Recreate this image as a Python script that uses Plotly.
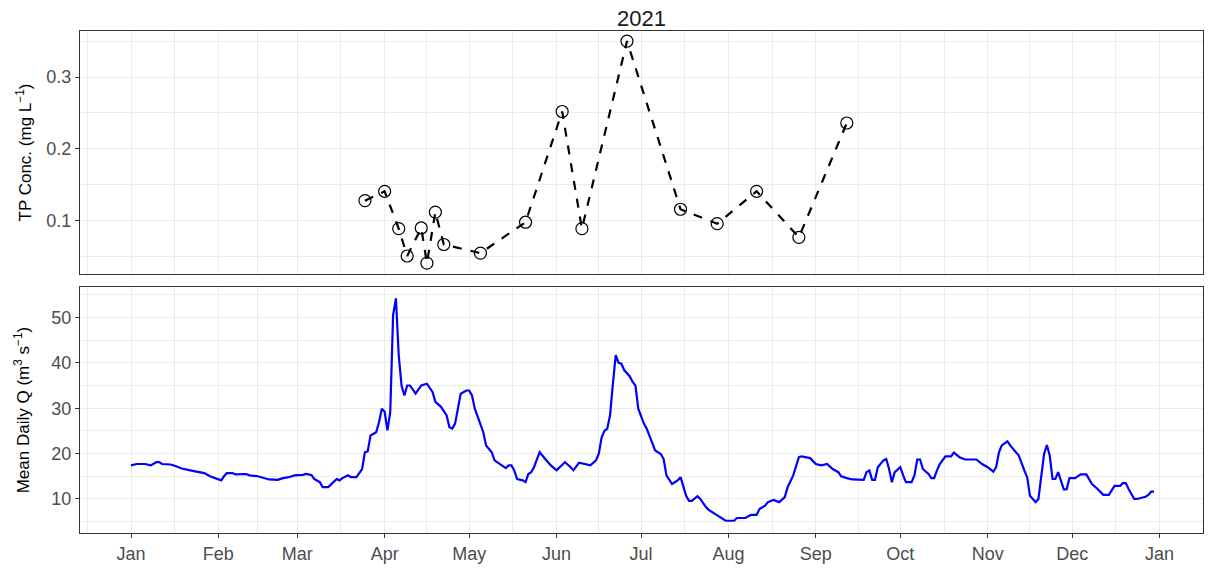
import pandas as pd
import plotly.graph_objects as go

# ---- data ----
tp_dates = ["2021-03-25", "2021-04-01", "2021-04-06", "2021-04-09", "2021-04-14", "2021-04-16",
            "2021-04-19", "2021-04-22", "2021-05-05", "2021-05-21", "2021-06-03", "2021-06-10",
            "2021-06-26", "2021-07-15", "2021-07-28", "2021-08-11", "2021-08-26", "2021-09-12"]
tp_values = [0.128, 0.141, 0.089, 0.051, 0.090, 0.041, 0.112, 0.067, 0.055, 0.098, 0.252, 0.089,
             0.350, 0.116, 0.096, 0.141, 0.077, 0.236]

q_days = [0, 2, 5, 7, 9, 10, 11, 14, 16, 18, 21, 23, 26, 28, 30, 32, 33, 34, 36, 37, 41, 42, 45, 47, 49,
          52, 54, 56, 58, 61, 62, 64, 65, 67, 68, 70, 72, 73, 74, 75, 77, 78, 80, 81, 82, 83, 84, 85, 87,
          88, 89, 90, 91, 92, 93, 94, 95, 96, 97, 98, 99, 101, 103, 105, 107, 108, 110, 112, 113, 114, 115,
          117, 119, 120, 121, 122, 123, 124, 125, 126, 128, 129, 131, 133, 134, 135, 136, 137, 139, 140,
          141, 142, 143, 145, 147, 149, 151, 153, 154, 156, 157, 159, 161, 163, 165, 166, 167, 168, 169,
          170, 171, 172, 173, 174, 175, 177, 178, 179, 180, 182, 183, 185, 186, 188, 189, 190, 192, 194,
          195, 197, 198, 199, 201, 202, 204, 205, 207, 209, 211, 214, 215, 218, 220, 222, 223, 225, 226,
          228, 230, 232, 233, 235, 236, 237, 238, 241, 243, 245, 247, 249, 251, 252, 254, 256, 260, 261,
          262, 263, 264, 265, 267, 268, 269, 270, 271, 273, 274, 275, 277, 278, 279, 280, 281, 283, 284,
          285, 286, 287, 289, 291, 292, 293, 294, 296, 300, 302, 304, 306, 307, 308, 309, 311, 312, 314,
          315, 317, 318, 319, 320, 321, 322, 323, 324, 325, 326, 327, 328, 329, 330, 331, 332, 333, 335,
          337, 339, 341, 343, 345, 347, 349, 351, 352, 353, 354, 356, 357, 360, 361, 362, 363]
q_values = [17.4, 17.7, 17.7, 17.4, 18.1, 18.1, 17.7, 17.6, 17.2, 16.7, 16.3, 16.1, 15.7, 15.0, 14.6, 14.1,
            15.0, 15.7, 15.7, 15.4, 15.5, 15.2, 15.0, 14.6, 14.3, 14.2, 14.6, 14.8, 15.2, 15.3, 15.5, 15.3,
            14.4, 13.7, 12.6, 12.6, 13.7, 14.4, 14.1, 14.6, 15.2, 14.8, 14.8, 15.7, 16.6, 20.3, 20.5, 24.0,
            24.7, 26.9, 29.9, 29.2, 25.1, 29.2, 50.5, 54.2, 41.7, 35.0, 32.8, 35.0, 35.0, 33.2, 35.0, 35.4,
            33.6, 31.4, 30.3, 28.4, 25.8, 25.5, 26.6, 33.2, 33.9, 33.9, 32.8, 29.9, 28.0, 26.6, 24.7, 21.8,
            20.3, 18.5, 17.7, 16.8, 17.4, 17.4, 16.3, 14.4, 14.1, 13.7, 15.5, 15.9, 17.0, 20.3, 18.8, 17.4,
            16.3, 17.4, 18.1, 17.0, 16.3, 18.0, 17.7, 17.4, 18.5, 20.0, 23.6, 25.0, 25.5, 28.5, 35.4, 41.7,
            40.0, 39.8, 38.4, 37.0, 35.8, 35.0, 29.9, 26.6, 25.5, 22.5, 20.7, 19.9, 18.8, 15.2, 13.3, 14.1,
            14.8, 10.7, 9.6, 9.6, 10.6, 10.0, 8.2, 7.6, 6.8, 5.9, 5.2, 5.2, 5.8, 5.8, 6.5, 6.5, 7.8, 8.5,
            9.3, 9.8, 9.3, 10.4, 12.6, 15.2, 17.0, 19.2, 19.4, 19.0, 17.7, 17.4, 17.7, 16.6, 15.9, 15.0,
            14.6, 14.3, 14.2, 15.9, 16.3, 14.2, 14.2, 17.0, 18.5, 18.8, 16.6, 13.7, 15.9, 17.0, 15.2, 13.7,
            13.7, 15.2, 18.7, 18.7, 16.6, 15.5, 14.6, 14.6, 16.3, 17.7, 19.4, 19.4, 20.2, 19.6, 19.2, 18.7,
            18.7, 17.7, 17.0, 16.0, 17.0, 20.3, 21.8, 22.7, 21.8, 20.3, 19.6, 16.3, 14.8, 10.7, 10.0, 9.3,
            10.0, 15.2, 19.9, 21.9, 19.6, 14.4, 14.4, 15.9, 13.7, 12.1, 12.1, 14.6, 14.6, 15.4, 15.4, 13.3,
            12.2, 10.9, 10.9, 12.9, 12.9, 13.5, 13.5, 12.2, 10.0, 10.0, 10.5, 10.9, 11.6, 11.6]

month_ticks = ["2021-01-01", "2021-02-01", "2021-03-01", "2021-04-01", "2021-05-01", "2021-06-01",
               "2021-07-01", "2021-08-01", "2021-09-01", "2021-10-01", "2021-11-01", "2021-12-01",
               "2022-01-01"]
month_labels = ["Jan", "Feb", "Mar", "Apr", "May", "Jun", "Jul", "Aug", "Sep", "Oct", "Nov", "Dec", "Jan"]

# ---- derived ----
start = pd.Timestamp("2021-01-01")
q_dates = [start + pd.Timedelta(days=d) for d in q_days]
ms = pd.date_range("2020-12-01", "2022-02-01", freq="MS")
x_minor = [ms[i] + (ms[i + 1] - ms[i]) / 2 for i in range(len(ms) - 1)]
x_range = [start + pd.Timedelta(days=-18.1), start + pd.Timedelta(days=380.4)]

FONT = "Liberation Sans, Arial, sans-serif"
GRID = "#EBEBEB"
BORDER = "#333333"

fig = go.Figure()
fig.add_trace(go.Scatter(x=tp_dates, y=tp_values, mode="lines+markers", xaxis="x", yaxis="y",
                         line=dict(color="black", width=2.2, dash="dash"),
                         marker=dict(symbol="circle-open", size=12, color="black", line=dict(width=1.2)),
                         showlegend=False))
fig.add_trace(go.Scatter(x=q_dates, y=q_values, mode="lines", xaxis="x2", yaxis="y2",
                         line=dict(color="#0000FF", width=2.2), showlegend=False))

common_x = dict(type="date", range=x_range, showline=True, mirror=True, linecolor=BORDER, linewidth=1.1,
                showgrid=True, gridcolor=GRID, gridwidth=1.1, zeroline=False, automargin=False,
                tickvals=month_ticks, ticktext=month_labels,
                minor=dict(tickvals=x_minor, showgrid=True, gridcolor=GRID, gridwidth=0.6, ticks=""))
common_y = dict(showline=True, mirror=True, linecolor=BORDER, linewidth=1.1, automargin=False,
                showgrid=True, gridcolor=GRID, gridwidth=1.1, zeroline=False,
                ticks="outside", ticklen=4, tickcolor=BORDER, tickwidth=1,
                tickfont=dict(size=18, color="#4D4D4D", family=FONT),
                title_font=dict(size=17, color="black", family=FONT))

fig.update_layout(
    width=1209, height=569,
    margin=dict(l=80, r=6, t=31, b=36),
    paper_bgcolor="white", plot_bgcolor="white",
    font=dict(family=FONT),
    title=dict(text="2021", x=0.5, xref="paper", y=1 - 18 / 569, yref="container", yanchor="middle",
               xanchor="center", automargin=False, font=dict(size=22, color="#1a1a1a", family=FONT)),
    xaxis=dict(common_x, domain=[0, 1], anchor="y", showticklabels=False, ticks=""),
    yaxis=dict(common_y, domain=[0.516, 1], anchor="x", range=[0.026, 0.364],
               tickvals=[0.1, 0.2, 0.3], ticktext=["0.1", "0.2", "0.3"],
               minor=dict(tickvals=[0.05, 0.15, 0.25, 0.35], showgrid=True, gridcolor=GRID, gridwidth=0.6, ticks=""),
               title=dict(text="TP Conc. (mg L<sup>−1</sup>)", standoff=10)),
    xaxis2=dict(common_x, domain=[0, 1], anchor="y2", ticks="outside", ticklen=4, tickcolor=BORDER,
                tickwidth=1, tickfont=dict(size=18, color="#4D4D4D", family=FONT)),
    yaxis2=dict(common_y, domain=[0, 0.490], anchor="x2", range=[2.5, 56.7],
                tickvals=[10, 20, 30, 40, 50],
                minor=dict(tickvals=[5, 15, 25, 35, 45, 55], showgrid=True, gridcolor=GRID, gridwidth=0.6, ticks=""),
                title=dict(text="Mean Daily Q (m<sup>3</sup> s<sup>−1</sup>)", standoff=17)),
)

fig.write_html("out.html", config={"displayModeBar": False},
               post_script="document.body.style.margin='0px';document.body.style.overflow='hidden';")
